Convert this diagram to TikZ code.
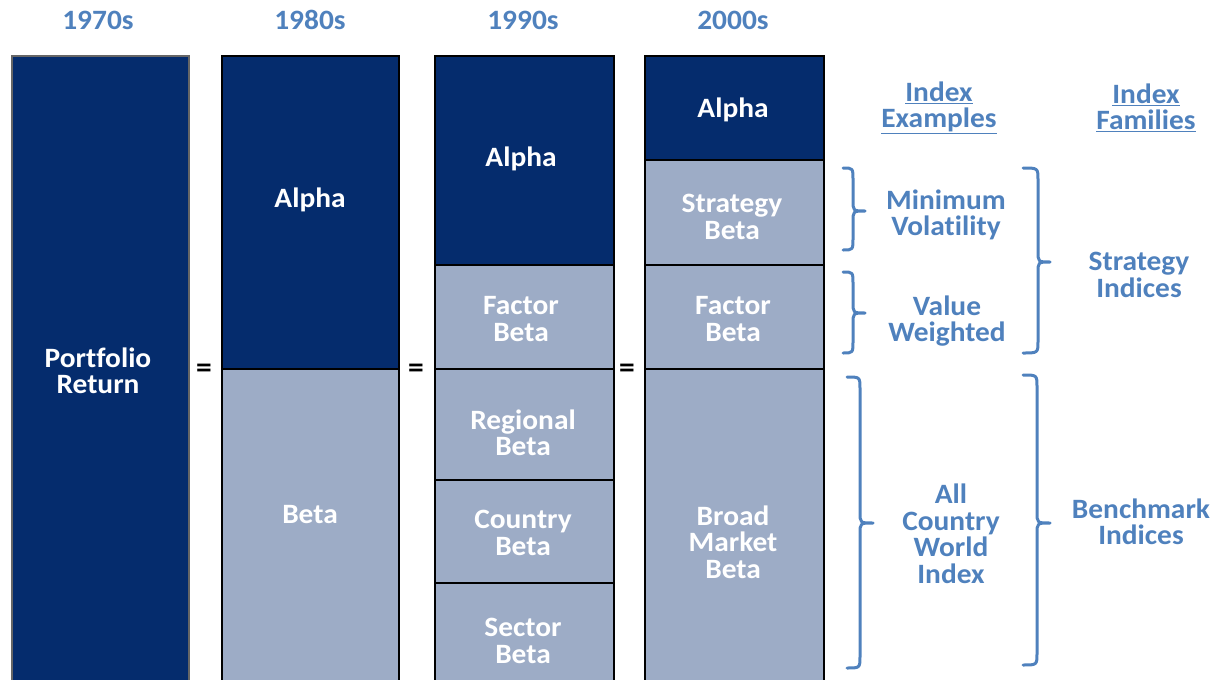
\documentclass[tikz,border=0pt]{standalone}
\usepackage{fontspec}
\setmainfont[Ligatures=NoCommon,FakeStretch=1.05]{Carlito}
\definecolor{navy}{HTML}{052C6D}
\definecolor{lite}{HTML}{9DACC6}
\definecolor{txtblue}{HTML}{4F81BD}
\newcommand{\mybrace}[6]{%
  \draw[brc] (#1,#4) .. controls (#2,#4) .. ({#2},{#4+12}) -- ({#2},{#5-11}) .. controls (#2,#5) .. (#3,#5)
    .. controls (#2,#5) .. ({#2},{#5+11}) -- ({#2},{#6-12}) .. controls (#2,#6) .. (#1,#6);}
\tikzset{
  seg/.style={draw=black, line width=2pt, inner sep=0pt, anchor=north west},
  darkseg/.style={seg, fill=navy},
  liteseg/.style={seg, fill=lite},
  wtxt/.style={text=white, font=\bfseries\fontsize{28}{26.5}\selectfont, align=center, inner sep=0pt},
  btxt/.style={text=txtblue, font=\bfseries\fontsize{28}{26.5}\selectfont, align=center, inner sep=0pt},
  eqs/.style={text=black, font=\bfseries\fontsize{30}{30}\selectfont, inner sep=0pt},
  brc/.style={draw=txtblue, line width=3pt, line cap=round, line join=round},
}
\begin{document}
\begin{tikzpicture}[x=1pt,y=-1pt]
\useasboundingbox (0,0) rectangle (1216,680);
% headers
\node[btxt] (h70) at (98,20) {1970s};
\node[btxt] (h80) at (310,20) {1980s};
\node[btxt] (h90) at (523,20) {1990s};
\node[btxt] (h00) at (733,20) {2000s};
% column 1970s
\node[darkseg, draw=black!60, minimum width=177pt, minimum height=630pt] (c1) at (11,55) {};
\node[wtxt] (t1) at (98,371) {Portfolio\\Return};
% column 1980s
\node[darkseg, minimum width=177pt, minimum height=313pt] (c2a) at (221,55) {};
\node[liteseg, minimum width=177pt, minimum height=320pt] (c2b) at (221,368) {};
\node[wtxt] (t2a) at (310,200) {Alpha};
\node[wtxt] (t2b) at (310,515) {Beta};
% column 1990s
\node[darkseg, minimum width=179pt, minimum height=209pt] (c3a) at (434,55) {};
\node[liteseg, minimum width=179pt, minimum height=104pt] (c3b) at (434,264) {};
\node[liteseg, minimum width=179pt, minimum height=111pt] (c3c) at (434,368) {};
\node[liteseg, minimum width=179pt, minimum height=103pt] (c3d) at (434,479) {};
\node[liteseg, minimum width=179pt, minimum height=110pt] (c3e) at (434,582) {};
\node[wtxt] (t3a) at (521,159) {Alpha};
\node[wtxt] (t3b) at (521,319) {Factor\\Beta};
\node[wtxt] (t3c) at (523,433) {Regional\\Beta};
\node[wtxt] (t3d) at (523,533) {Country\\Beta};
\node[wtxt] (t3e) at (523,641) {Sector\\Beta};
% column 2000s
\node[darkseg, minimum width=179pt, minimum height=104pt] (c4a) at (644,55) {};
\node[liteseg, minimum width=179pt, minimum height=105pt] (c4b) at (644,159) {};
\node[liteseg, minimum width=179pt, minimum height=104pt] (c4c) at (644,264) {};
\node[liteseg, minimum width=179pt, minimum height=320pt] (c4d) at (644,368) {};
\node[wtxt] (t4a) at (733,110) {Alpha};
\node[wtxt] (t4b) at (732,217) {Strategy\\Beta};
\node[wtxt] (t4c) at (733,319) {Factor\\Beta};
\node[wtxt] (t4d) at (733,542) {Broad\\Market\\Beta};
% equals
\node[eqs] (e1) at (204,371) {=};
\node[eqs] (e2) at (416,371) {=};
\node[eqs] (e3) at (627,371) {=};
% right headers
\node[btxt] (ie) at (939,108) {\underline{Index}\\\underline{Examples}};
\node[btxt] (if) at (1146,108) {\underline{Index}\\\underline{Families}};
\node[btxt] (mv) at (946,215) {Minimum\\Volatility};
\node[btxt] (vw) at (947,321) {Value\\Weighted};
\node[btxt] (si) at (1139,275) {Strategy\\Indices};
\node[btxt] (acwi) at (951,534) {All\\Country\\World\\Index};
\node[btxt] (bi) at (1141,522) {Benchmark\\Indices};
% braces
\mybrace{843}{853}{865}{168}{211}{250}
\mybrace{843}{853}{865}{272}{313}{353}
\mybrace{1023}{1038}{1050}{168}{262}{353}
\mybrace{847}{860}{873}{377}{523}{668}
\mybrace{1023}{1037}{1050}{375}{523}{665}
\end{tikzpicture}
\end{document}
